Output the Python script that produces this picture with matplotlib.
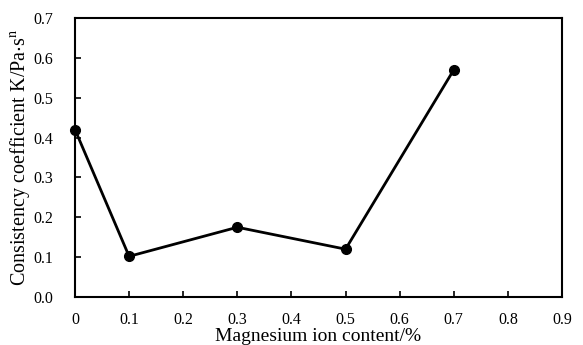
import matplotlib
matplotlib.use("Agg")
import matplotlib.pyplot as plt
import numpy as np

plt.rcParams['font.family'] = ['Liberation Serif', 'DejaVu Serif']
plt.rcParams['mathtext.fontset'] = 'stix'

mg_content = [0, 0.1, 0.3, 0.5, 0.7]
consistency = [0.42, 0.102, 0.175, 0.12, 0.57]
x_ticks = [0, 0.1, 0.2, 0.3, 0.4, 0.5, 0.6, 0.7, 0.8, 0.9]
y_ticks = [0.0, 0.1, 0.2, 0.3, 0.4, 0.5, 0.6, 0.7]

fig = plt.figure(figsize=(5.83, 3.45), dpi=100)
ax = fig.add_axes([75/583, 48/345, 487/583, 279/345])

ax.plot(mg_content, consistency, color='black', linewidth=2,
        marker='o', markersize=7, clip_on=False, zorder=3)

ax.set_xlim(0, 0.9)
ax.set_ylim(0, 0.7)
ax.set_xticks(x_ticks)
ax.set_xticklabels(['0' if t == 0 else '%.1f' % t for t in x_ticks])
ax.set_yticks(y_ticks)
ax.set_yticklabels(['%.1f' % t for t in y_ticks])
ax.tick_params(direction='in', length=4, width=1.2, labelsize=11.5)
ax.tick_params(axis='x', pad=11)
ax.tick_params(axis='y', pad=16)

for s in ax.spines.values():
    s.set_linewidth(1.5)

ax.set_xlabel('Magnesium ion content/%', fontsize=14, labelpad=0)
ax.set_ylabel(r'Consistency coefficient K/Pa$\cdot$s$^{\mathrm{n}}$', fontsize=14.5, labelpad=1)

fig.savefig('out.png', dpi=100)
